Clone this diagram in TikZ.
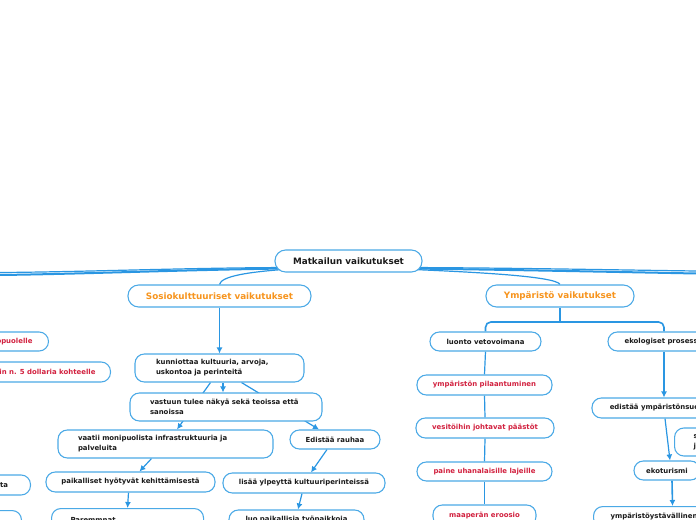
\documentclass[tikz,border=0pt]{standalone}
\usepackage{fontspec}
\setmainfont{DejaVu Sans}
\usetikzlibrary{arrows.meta,calc}
\definecolor{boxblue}{HTML}{4BA9E6}
\definecolor{linkblue}{HTML}{2A96E2}
\definecolor{orangetxt}{HTML}{F7941D}
\definecolor{redtxt}{HTML}{D2213F}
\definecolor{darktxt}{HTML}{1A1A1A}
\pgfdeclarelayer{bg}
\pgfsetlayers{bg,main}
\begin{document}
\begin{tikzpicture}[x=0.75pt,y=-0.75pt,
  box/.style={draw=boxblue, line width=0.8pt, rounded corners=7pt, fill=white,
    inner sep=0pt, align=center, text=darktxt,
    font=\bfseries\fontsize{5.2}{7.5}\selectfont},
  sz/.style 2 args={minimum width=#1*0.75pt, minimum height=#2*0.75pt},
  bigtxt/.style={font=\bfseries\fontsize{6.6}{8}\selectfont},
  redt/.style={text=redtxt},
  orat/.style={text=orangetxt},
  link/.style={draw=linkblue, line width=0.9pt},
  alink/.style={draw=linkblue, line width=0.9pt, -{Latex[length=4.5pt,width=4.5pt]}},
  rootlink/.style={draw=linkblue, line width=1.5pt},
]
\useasboundingbox (0,0) rectangle (696,520);
\clip (0,0) rectangle (696,520);

% main nodes
\node[box, bigtxt, sz={147}{22}, rounded corners=8pt] (root) at (348.5,261) {Matkailun vaikutukset};
\node[box, bigtxt, orat, sz={183}{22}, rounded corners=8pt] (sos) at (219.5,296) {Sosiokulttuuriset vaikutukset};
\node[box, bigtxt, orat, sz={148}{22}, rounded corners=8pt] (ymp) at (560,296) {Ympäristö vaikutukset};

% left branch (partly off canvas)
\node[box, redt, anchor=east, inner xsep=12pt, sz={10}{19}] (l1) at (49,341.5) {ulkopuolelle};
\node[box, redt, anchor=east, inner xsep=11.25pt, sz={10}{20}] (l2) at (111,372) {vain n. 5 dollaria kohteelle};
\node[box, anchor=east, inner xsep=12pt, sz={60}{20}] (l3) at (31,485) {alta};
\node[box, anchor=north east, sz={80}{28}] (l4) at (22,510) {};

% socio-cultural branch
\node[box, sz={169}{28}, align=left, inner xsep=15.75pt, text width=95.25pt] (kun) at (219.5,368)
  {kunniottaa kultuuria, arvoja,\\uskontoa ja perinteitä};
\node[box, sz={192}{28}, align=left, inner xsep=15pt, text width=114pt] (vas) at (226,407)
  {vastuun tulee näkyä sekä teoissa että\\sanoissa};
\node[box, sz={215}{28}, align=left, inner xsep=15pt, text width=131.25pt] (vaa) at (165.5,444)
  {vaatii monipuolista infrastruktuuria ja\\palveluita};
\node[box, sz={90}{19}] (edi) at (335,439.5) {Edistää rauhaa};
\node[box, sz={169}{20}] (pai) at (130.5,482) {paikalliset hyötyvät kehittämisestä};
\node[box, sz={162}{20}] (lis) at (304,483) {lisää ylpeyttä kultuuriperinteissä};
\node[box, anchor=north west, sz={152}{22}, align=left, inner xsep=14.25pt, text width=85.5pt] (par) at (51,508) {Paremmnat};
\node[box, sz={135}{20}] (luo) at (296.5,520) {luo paikallisia työpaikkoja};

% environmental branch
\node[box, sz={111}{19}] (luon) at (485.5,341.5) {luonto vetovoimana};
\node[box, sz={112}{19}] (eko) at (664,341.5) {ekologiset prosessit};
\node[box, redt, sz={135}{20}] (pil) at (484.5,385) {ympäristön pilaantuminen};
\node[box, redt, sz={138}{20}] (ves) at (485,428) {vesitöihin johtavat päästöt};
\node[box, redt, sz={135}{19}] (pain) at (484.5,471.5) {paine uhanalaisille lajeille};
\node[box, redt, sz={103}{21}] (maa) at (484.5,515.5) {maaperän eroosio};
\node[box, sz={144}{20}] (edy) at (664,408) {edistää ympäristönsuojelua};
\node[box, anchor=west, sz={70}{28}, align=left, inner xsep=14.25pt, text width=30pt] (sbx) at (674,442) {s\\j};
\node[box, sz={66}{19}] (ekot) at (667,470.5) {ekoturismi};
\node[box, anchor=north west, sz={158}{21}, align=left, inner xsep=12.75pt, text width=93pt] (yst) at (593,506) {ympäristöystävällinen};

\coordinate (lendA) at (0,275);
\coordinate (lendB) at (0,272.5);
\coordinate (rendA) at (696,273.5);
\coordinate (rendB) at (696,271);

\begin{pgfonlayer}{bg}
  % root connectors
  \draw[rootlink] ($(root.south west)+(8,-4)$) .. controls (180,270) and (80,274) .. (lendA);
  \draw[rootlink, line width=0.9pt] ($(root.south west)+(8,-5)$) .. controls (180,268) and (80,272) .. (lendB);
  \draw[rootlink] ($(root.south east)+(-8,-4)$) .. controls (520,270) and (620,272) .. (rendA);
  \draw[rootlink, line width=0.9pt] ($(root.south east)+(-8,-5)$) .. controls (520,268) and (620,270) .. (rendB);
  \draw[link] ($(root.south west)+(8,-3)$) .. controls (250,272) and (221,276) .. (sos.north);
  \draw[link] ($(root.south east)+(-8,-3)$) .. controls (470,272) and (556,276) .. (ymp.north);

  % socio-cultural
  \draw[alink, line width=1.2pt] (sos.south) -- (kun.north);
  \draw[alink] ($(kun.south)+(3.5,0)$) -- ($(vas.north)+(-3,0)$);
  \draw[alink] ($(kun.south)+(-9,0)$) -- ($(vaa.north)+(11.5,0)$);
  \draw[alink] ($(kun.south)+(22,0)$) -- ($(edi.north)+(-16,0)$);
  \draw[alink] ($(vaa.south)+(-14,0)$) -- ($(pai.north)+(9,0)$);
  \draw[alink] ($(pai.south)+(-2,0)$) -- (par.north);
  \draw[alink] ($(edi.south)+(-8,0)$) -- ($(lis.north)+(7,0)$);
  \draw[alink] ($(lis.south)+(-2,0)$) -- ($(luo.north)+(1.5,0)$);

  % environmental
  \draw[link, line width=1.2pt] (ymp.south) -- (ymp.south |- 0,322);
  \draw[link, line width=1.2pt, rounded corners=4pt] (luon.north) |- (eko.north |- 0,322) -- (eko.north);
  \draw[link] (luon.south) -- (pil.north);
  \draw[link] (pil.south) -- (ves.north);
  \draw[link] (ves.south) -- (pain.north);
  \draw[link] (pain.south) -- (maa.north);
  \draw[alink] (eko.south) -- (edy.north);
  \draw[alink] ($(edy.south)+(1,0)$) -- ($(ekot.north)+(3,0)$);
  \draw[alink, line width=1.2pt] ($(ekot.south)+(5,0)$) -- (yst.north);
\end{pgfonlayer}
\end{tikzpicture}
\end{document}
